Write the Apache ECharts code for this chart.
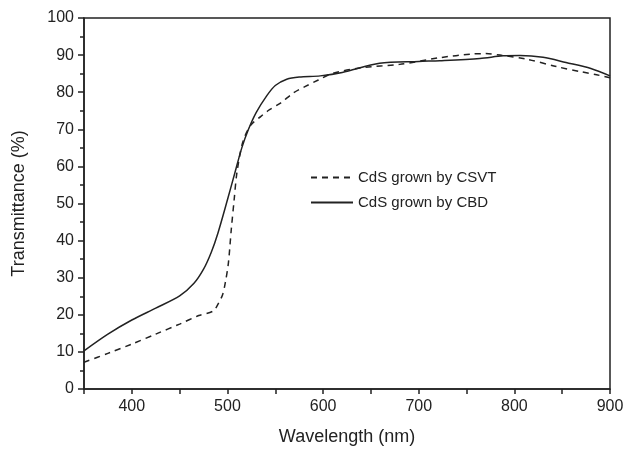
<!DOCTYPE html>
<html><head><meta charset="utf-8">
<script src="https://cdn.jsdelivr.net/npm/echarts@6/dist/echarts.min.js"></script>
<style>html,body{margin:0;padding:0;background:#fff}#c{width:627px;height:451px}</style>
</head><body><div id="c"></div>
<script>
var seriesNames = ['CdS grown by CSVT', 'CdS grown by CBD'];
var csvtX = [350, 375, 400, 425, 450, 470, 485, 490, 495, 498, 501, 504, 507, 510, 516, 524, 535, 544, 555, 569, 581, 595, 610, 640, 680, 722, 756, 770, 785, 813, 844, 870, 886, 900];
var csvtY = [7.2, 9.6, 12.1, 14.8, 17.5, 19.8, 21, 22.8, 25.5, 29, 34, 43, 51, 58.5, 66.5, 71, 73.5, 75.3, 77, 79.8, 81.5, 83.3, 85.1, 86.6, 87.5, 89.3, 90.3, 90.4, 90, 88.9, 86.9, 85.5, 84.7, 83.9];
var cbdX = [350, 375, 400, 425, 450, 465, 475, 483, 490, 500, 508, 515, 522, 530, 541, 550, 562, 575, 597, 620, 659, 700, 722, 764, 788, 806, 830, 854, 880, 900];
var cbdY = [10.3, 14.8, 18.6, 21.8, 25.1, 28.5, 32.3, 36.8, 42, 51, 58.5, 65, 70, 74.5, 79, 81.8, 83.5, 84.1, 84.4, 85.3, 87.8, 88.3, 88.5, 89.1, 89.8, 89.9, 89.4, 88, 86.4, 84.4];
var xTickValues = [350, 400, 450, 500, 550, 600, 650, 700, 750, 800, 850, 900];
var xLabelValues = [400, 500, 600, 700, 800, 900];
var xMin = 350, xMax = 900;
var yMin = 0, yMax = 100, yInterval = 10;

function pairs(xs, ys) { return xs.map(function (x, i) { return [x, ys[i]]; }); }
var ink = '#222';
var font = 'Liberation Sans, Arial, sans-serif';
var chart = echarts.init(document.getElementById('c'), null, {renderer: 'canvas'});
chart.setOption({
  backgroundColor: '#fff',
  animation: false,
  grid: {left: 84, right: 17, top: 18, bottom: 61, show: true, borderColor: ink, borderWidth: 1.5, backgroundColor: 'transparent'},
  legend: {
    orient: 'vertical', left: 310, top: 170, padding: 0, itemWidth: 42, itemHeight: 10, itemGap: 10,
    textStyle: {fontFamily: font, fontSize: 15, color: ink},
    itemStyle: {color: 'transparent', borderWidth: 0, opacity: 0},
    data: seriesNames
  },
  xAxis: {
    type: 'value', min: xMin, max: xMax,
    axisLabel: {fontFamily: font, fontSize: 16, color: ink, margin: 10, customValues: xLabelValues},
    axisLine: {lineStyle: {color: ink, width: 1.5}},
    axisTick: {show: true, inside: false, length: 5, customValues: xTickValues, lineStyle: {color: ink, width: 1.5}},
    splitLine: {show: false},
    name: 'Wavelength (nm)', nameLocation: 'middle', nameGap: 39,
    nameTextStyle: {fontFamily: font, fontSize: 18, color: ink}
  },
  yAxis: {
    type: 'value', min: yMin, max: yMax, interval: yInterval,
    axisLabel: {fontFamily: font, fontSize: 16, color: ink, margin: 10},
    axisLine: {lineStyle: {color: ink, width: 1.5}},
    axisTick: {show: true, inside: false, length: 6, lineStyle: {color: ink, width: 1.5}},
    minorTick: {show: true, splitNumber: 2, length: 4, lineStyle: {color: ink, width: 1.5}},
    splitLine: {show: false},
    name: 'Transmittance (%)', nameLocation: 'middle', nameGap: 56,
    nameTextStyle: {fontFamily: font, fontSize: 18, color: ink}
  },
  series: [
    {name: seriesNames[0], type: 'line', data: pairs(csvtX, csvtY), symbol: 'none', smooth: 0.3,
     lineStyle: {color: ink, width: 1.5, type: [6, 5]}, itemStyle: {color: ink}},
    {name: seriesNames[1], type: 'line', data: pairs(cbdX, cbdY), symbol: 'none', smooth: 0.3,
     lineStyle: {color: ink, width: 1.5, type: 'solid'}, itemStyle: {color: ink}}
  ]
});
</script></body></html>
